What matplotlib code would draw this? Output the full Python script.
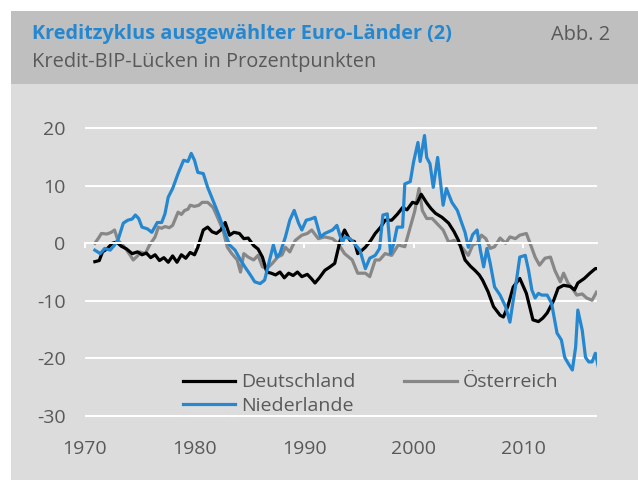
import matplotlib
matplotlib.use('Agg')
import matplotlib.pyplot as plt
from matplotlib.patches import Rectangle

plt.rcParams['font.family'] = ['Open Sans', 'DejaVu Sans']
plt.rcParams['axes.unicode_minus'] = False

# Kredit-BIP-Luecken (Prozentpunkte)
de_years = [1970.9, 1971.3, 1971.6, 1972.0, 1972.5, 1972.9, 1973.3, 1973.8, 1974.3, 1974.8,
            1975.2, 1975.6, 1976.0, 1976.4, 1976.8, 1977.2, 1977.6, 1978.0, 1978.4, 1978.8,
            1979.2, 1979.6, 1980.0, 1980.3, 1980.8, 1981.2, 1981.6, 1982.0, 1982.4, 1982.8,
            1983.2, 1983.6, 1984.1, 1984.5, 1984.9, 1985.4, 1985.8, 1986.2, 1986.6, 1987.0,
            1987.4, 1987.8, 1988.2, 1988.6, 1989.0, 1989.4, 1989.8, 1990.3, 1990.7, 1991.0,
            1991.4, 1991.9, 1992.3, 1992.8, 1993.3, 1993.7, 1994.2, 1994.6, 1994.9, 1995.3,
            1995.6, 1996.1, 1996.5, 1997.0, 1997.4, 1998.0, 1998.5, 1999.0, 1999.4, 1999.9,
            2000.3, 2000.7, 2001.2, 2001.6, 2002.0, 2002.6, 2003.2, 2003.7, 2004.1, 2004.7,
            2005.2, 2005.6, 2006.0, 2006.3, 2006.8, 2007.3, 2007.9, 2008.2, 2008.6, 2009.1,
            2009.7, 2010.3, 2010.9, 2011.4, 2011.8, 2012.2, 2012.8, 2013.2, 2013.7, 2014.3,
            2014.7, 2015.0, 2015.6, 2016.1, 2016.6, 2016.9]
de_vals = [-3.2, -3.0, -1.5, -1.0, 0.0, 0.2, -0.5, -1.0, -1.8, -1.5,
           -2.0, -1.7, -2.5, -2.0, -3.0, -2.5, -3.3, -2.2, -3.3, -2.0,
           -2.6, -1.6, -2.0, -0.7, 2.3, 2.8, 2.0, 1.7, 2.3, 3.6,
           1.4, 1.9, 1.7, 0.8, 0.9, -0.4, -1.0, -2.4, -5.0, -5.2,
           -5.5, -5.0, -6.0, -5.2, -5.6, -5.0, -5.8, -5.4, -6.2, -6.9,
           -6.0, -4.7, -4.2, -3.5, 0.5, 2.3, 0.5, 0.3, -1.8, -1.2,
           -0.7, 0.5, 1.7, 2.8, 4.0, 4.0, 5.0, 6.2, 5.8, 7.1,
           6.9, 8.5, 7.0, 6.0, 5.2, 4.5, 3.5, 2.0, 0.5, -2.9,
           -4.0, -4.7, -5.5, -6.4, -8.4, -11.0, -12.5, -12.8, -11.0, -7.6,
           -6.1, -8.7, -13.3, -13.6, -13.0, -12.1, -9.9, -7.8, -7.3, -7.5,
           -8.1, -6.9, -6.1, -5.2, -4.4, -4.4]

at_years = [1970.9, 1971.2, 1971.5, 1972.0, 1972.4, 1972.7, 1973.0, 1973.4, 1973.7, 1974.1,
            1974.4, 1974.8, 1975.0, 1975.5, 1975.9, 1976.4, 1976.7, 1977.0, 1977.3, 1977.7,
            1978.0, 1978.5, 1978.8, 1979.1, 1979.4, 1979.6, 1980.0, 1980.4, 1980.7, 1981.2,
            1981.7, 1982.1, 1982.6, 1983.0, 1983.4, 1983.9, 1984.2, 1984.5, 1984.9, 1985.4,
            1985.8, 1986.2, 1986.6, 1987.1, 1987.6, 1988.0, 1988.3, 1988.7, 1989.2, 1989.8,
            1990.3, 1990.7, 1991.3, 1991.9, 1992.6, 1993.1, 1993.7, 1994.4, 1994.9, 1995.6,
            1996.0, 1996.5, 1996.9, 1997.4, 1998.0, 1998.6, 1999.2, 1999.8, 2000.1, 2000.5,
            2000.8, 2001.2, 2001.7, 2002.1, 2002.7, 2003.2, 2003.7, 2004.1, 2004.5, 2005.0,
            2005.4, 2005.8, 2006.2, 2006.6, 2007.0, 2007.4, 2007.9, 2008.4, 2008.8, 2009.3,
            2009.7, 2010.3, 2010.6, 2011.1, 2011.5, 2012.0, 2012.5, 2012.9, 2013.4, 2013.7,
            2014.1, 2014.6, 2014.9, 2015.4, 2015.8, 2016.3, 2016.7]
at_vals = [0.0, 0.8, 1.7, 1.6, 1.9, 2.3, 0.5, -0.2, -0.9, -2.0,
           -2.9, -2.2, -1.5, -1.8, -0.3, 1.1, 2.8, 2.6, 2.9, 2.7,
           3.1, 5.4, 5.0, 5.7, 5.9, 6.6, 6.4, 6.6, 7.1, 7.1,
           6.2, 4.5, 2.3, -0.7, -1.8, -2.9, -5.0, -1.8, -2.4, -2.9,
           -2.1, -4.1, -4.4, -3.5, -2.4, -2.0, -0.7, -1.5, 0.5, 1.4,
           1.7, 2.3, 0.8, 1.1, 0.8, 0.0, -1.8, -2.9, -5.2, -5.2,
           -5.8, -2.9, -2.9, -1.8, -2.1, -0.3, -0.6, 3.5, 5.5, 9.5,
           5.7, 4.3, 4.3, 3.5, 2.3, 0.2, 0.5, 0.0, -0.9, -2.1,
           -0.3, 0.0, 1.4, 0.8, -0.9, -0.6, 0.9, 0.0, 1.1, 0.8,
           1.4, 1.7, 0.2, -2.4, -3.8, -2.6, -2.4, -4.7, -6.7, -5.2,
           -6.9, -8.1, -9.0, -8.8, -9.5, -9.9, -8.5]

nl_years = [1970.9, 1971.4, 1971.8, 1972.3, 1972.7, 1973.0, 1973.5, 1973.9, 1974.3, 1974.6,
            1974.9, 1975.2, 1975.7, 1976.1, 1976.6, 1977.0, 1977.3, 1977.6, 1978.0, 1978.5,
            1979.0, 1979.4, 1979.7, 1980.0, 1980.3, 1980.8, 1981.2, 1981.8, 1982.3, 1982.8,
            1983.2, 1983.7, 1984.2, 1984.6, 1985.1, 1985.5, 1986.0, 1986.4, 1986.7, 1987.2,
            1987.5, 1987.8, 1988.3, 1988.7, 1989.1, 1989.5, 1989.8, 1990.2, 1990.6, 1991.0,
            1991.5, 1991.9, 1992.6, 1993.0, 1993.5, 1993.7, 1994.2, 1994.7, 1995.1, 1995.6,
            1996.0, 1996.5, 1996.9, 1997.2, 1997.6, 1997.9, 1998.2, 1998.5, 1999.0, 1999.2,
            1999.7, 2000.0, 2000.4, 2000.6, 2001.0, 2001.2, 2001.5, 2001.8, 2002.2, 2002.7,
            2003.0, 2003.5, 2004.0, 2004.4, 2004.7, 2005.0, 2005.4, 2005.8, 2006.1, 2006.4,
            2006.7, 2007.0, 2007.4, 2007.9, 2008.4, 2008.8, 2009.1, 2009.4, 2009.7, 2010.2,
            2010.5, 2010.8, 2011.1, 2011.4, 2011.7, 2012.2, 2012.6, 2013.1, 2013.5, 2013.8,
            2014.1, 2014.5, 2014.8, 2015.0, 2015.4, 2015.7, 2016.0, 2016.3, 2016.6, 2016.9]
nl_vals = [-1.2, -1.8, -0.9, -1.2, -0.3, 0.5, 3.5, 4.0, 4.2, 4.9,
           4.3, 2.8, 2.5, 1.9, 3.6, 3.6, 5.1, 8.0, 9.5, 12.1,
           14.4, 14.2, 15.6, 14.4, 12.3, 12.1, 9.7, 6.9, 4.5, 1.7,
           -0.3, -1.2, -2.9, -4.1, -5.5, -6.7, -7.0, -6.4, -4.1, -0.3,
           -2.4, -1.8, 1.1, 4.0, 5.7, 3.5, 2.3, 4.0, 4.2, 4.5,
           1.1, 1.7, 2.3, 3.1, 0.0, 1.1, 0.8, -0.3, -1.2, -4.4,
           -2.6, -2.1, -0.9, 4.9, 5.1, -1.8, 0.0, 2.8, 2.8, 10.3,
           10.7, 14.1, 17.5, 14.2, 18.7, 14.9, 13.8, 9.7, 14.9, 6.6,
           9.5, 7.1, 5.7, 3.5, 1.9, -0.7, 1.5, 2.3, -1.2, -4.1,
           -0.9, -3.5, -7.6, -9.0, -11.0, -13.7, -9.9, -6.4, -2.4, -2.1,
           -4.7, -8.1, -9.5, -8.7, -9.0, -9.0, -10.4, -15.6, -16.8, -19.8,
           -20.8, -22.0, -18.0, -11.6, -15.1, -19.8, -20.6, -20.6, -19.1, -21.7]

x_ticks = [1970, 1980, 1990, 2000, 2010]
y_ticks = [-30, -20, -10, 0, 10, 20]

W, H = 638, 480
fig = plt.figure(figsize=(W / 100, H / 100), dpi=100)
fig.patch.set_facecolor('white')

# Kopfband und Grundflaeche
fig.patches.append(Rectangle((11 / W, 1 - 84 / H), 1, 73 / H, transform=fig.transFigure,
                             facecolor='#bfbfbf', edgecolor='none', zorder=-2))
fig.patches.append(Rectangle((11 / W, 0), 1, 1 - 84 / H, transform=fig.transFigure,
                             facecolor='#dcdcdc', edgecolor='none', zorder=-2))

fig.text(32 / W, 1 - 39 / H, 'Kreditzyklus ausgewählter Euro-Länder (2)', color='#2587d0',
         fontsize=14.3, fontweight='bold', ha='left', va='baseline')
fig.text(610 / W, 1 - 40 / H, 'Abb. 2', color='#595959', fontsize=14.4, ha='right', va='baseline')
fig.text(32 / W, 1 - 67 / H, 'Kredit-BIP-Lücken in Prozentpunkten', color='#595959',
         fontsize=14.4, ha='left', va='baseline')

ax = fig.add_axes([85 / W, 1 - 417.2 / H, 512 / W, 290.3 / H])
ax.set_zorder(2)
ax.set_facecolor('none')
ax.set_xlim(1970, 2016.75)
ax.set_ylim(-30.2, 20.2)

ax.set_yticks(y_ticks)
ax.yaxis.grid(True, color='white', lw=1.4)
ax.set_axisbelow(True)
for s in ['top', 'right', 'left']:
    ax.spines[s].set_visible(False)
ax.spines['bottom'].set_position(('data', 0))
ax.spines['bottom'].set_color('white')
ax.spines['bottom'].set_linewidth(1.4)
ax.set_xticks(x_ticks)
ax.tick_params(axis='x', direction='out', length=3.6, width=1.4, color='white', labelbottom=False)
ax.tick_params(axis='y', length=0, pad=14, labelsize=14, labelcolor='#595959')

sec = ax.secondary_xaxis('bottom')
sec.set_xticks(x_ticks)
sec.tick_params(length=0, pad=16.5, labelsize=14, labelcolor='#595959')
sec.spines['bottom'].set_visible(False)

lw = 2.3
at_line, = ax.plot(at_years, at_vals, color='#878787', lw=lw, label='Österreich')
de_line, = ax.plot(de_years, de_vals, color='black', lw=lw, label='Deutschland')
nl_line, = ax.plot(nl_years, nl_vals, color='#2587d0', lw=lw, label='Niederlande')

leg = ax.legend(handles=[de_line, nl_line, at_line], ncol=2, loc='upper left',
                bbox_to_anchor=(0.191, 0.151), frameon=False, fontsize=14,
                handlelength=2.7, handletextpad=0.3, columnspacing=2.5,
                labelspacing=0.3, borderpad=0, borderaxespad=0)
for t in leg.get_texts():
    t.set_color('#595959')

fig.savefig('out.png', dpi=100)
